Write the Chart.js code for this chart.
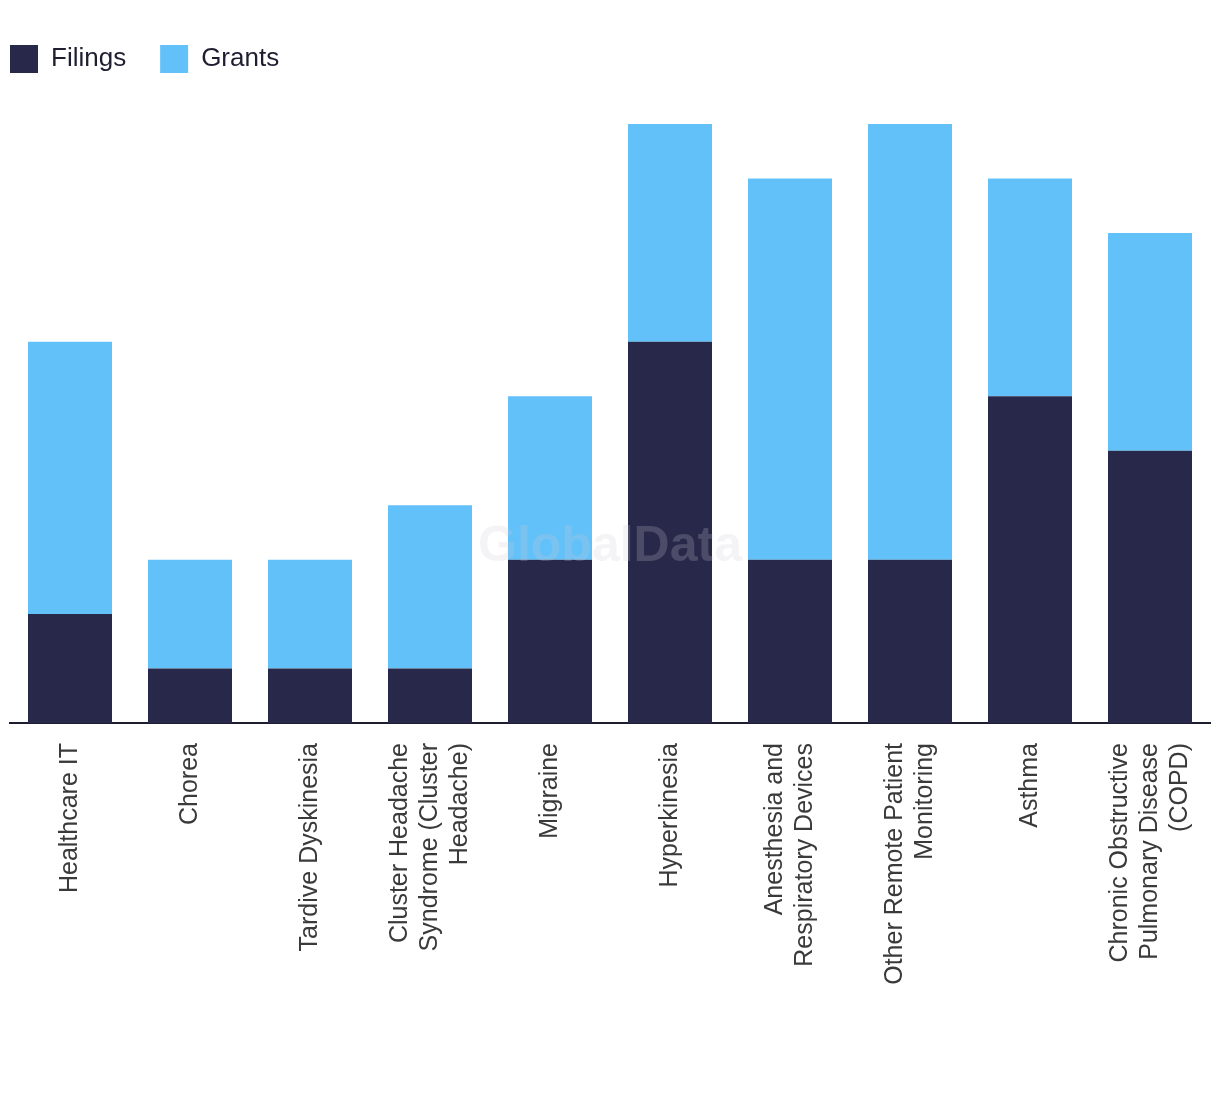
<!DOCTYPE html>
<html>
<head>
<meta charset="utf-8">
<script src="https://cdn.jsdelivr.net/npm/chart.js@4/dist/chart.umd.min.js"></script>
<style>
  html, body { margin: 0; padding: 0; background: #ffffff; }
  #wrap { width: 1220px; height: 1094px; }
</style>
</head>
<body>
<div id="wrap"><canvas id="c" width="1220" height="1094"></canvas></div>
<script>
const categories = [
  "Healthcare IT",
  "Chorea",
  "Tardive Dyskinesia",
  ["Cluster Headache", "Syndrome (Cluster", "Headache)"],
  "Migraine",
  "Hyperkinesia",
  ["Anesthesia and", "Respiratory Devices"],
  ["Other Remote Patient", "Monitoring"],
  "Asthma",
  ["Chronic Obstructive", "Pulmonary Disease", "(COPD)"]
];
const filings = [2, 1, 1, 1, 3, 7, 3, 3, 6, 5];
const grants  = [5, 2, 2, 3, 3, 4, 7, 8, 4, 4];
const seriesNames = ["Filings", "Grants"];
const yMax = 11;

const LEG_PAD = 34;
const LEG_BOX_TOP = 45;
const AREA_TOP = 124;
const AREA_BOTTOM = 723;
const H = 1094;

const layoutTweaks = {
  id: 'layoutTweaks',
  beforeLayout(chart) {
    const lg = chart.legend;
    if (lg && !lg._patched) {
      const orig = lg.fit;
      lg.fit = function () { orig.call(this); this.height = AREA_TOP - (LEG_BOX_TOP - LEG_PAD); };
      lg._patched = true;
    }
  },
  afterLayout(chart) {
    if (chart.legend) chart.legend.left = 10 - LEG_PAD;
  },
  beforeDraw(chart) {
    const ctx = chart.ctx;
    ctx.save();
    ctx.fillStyle = '#ffffff';
    ctx.fillRect(0, 0, chart.width, chart.height);
    ctx.restore();
    const scale = chart.scales.x;
    const items = scale.getLabelItems();
    items.forEach(it => {
      if (it._centered) return;
      const n = Array.isArray(it.label) ? it.label.length : 1;
      const lh = it.font.lineHeight;
      it.options.translation[0] -= (n - 1) * lh / 2;
      it._centered = true;
    });
  },
  afterDatasetsDraw(chart) {
    const ctx = chart.ctx;
    ctx.save();
    ctx.font = 'bold 50px "Liberation Sans", Arial, sans-serif';
    ctx.textAlign = 'center';
    ctx.textBaseline = 'middle';
    ctx.fillStyle = 'rgba(205,205,215,0.22)';
    ctx.fillText('GlobalData', chart.width / 2, chart.height / 2);
    ctx.restore();
  }
};

new Chart(document.getElementById('c'), {
  type: 'bar',
  data: {
    labels: categories,
    datasets: [
      { label: seriesNames[0], data: filings, backgroundColor: '#28284A', borderWidth: 0 },
      { label: seriesNames[1], data: grants, backgroundColor: '#63C1F9', borderWidth: 0 }
    ]
  },
  options: {
    responsive: false,
    animation: false,
    events: [],
    layout: { padding: { left: 10, right: 10, top: LEG_BOX_TOP - LEG_PAD, bottom: 0 } },
    datasets: { bar: { barPercentage: 0.7, categoryPercentage: 1.0 } },
    plugins: {
      legend: {
        position: 'top',
        align: 'start',
        labels: {
          boxWidth: 28,
          boxHeight: 28,
          padding: LEG_PAD,
          color: '#1e1e30',
          font: { family: '"Liberation Sans", Arial, sans-serif', size: 26 }
        }
      },
      tooltip: { enabled: false },
      title: { display: false }
    },
    scales: {
      x: {
        stacked: true,
        grid: { display: false, drawTicks: false },
        border: { display: true, color: '#1d1d30', width: 2 },
        ticks: {
          minRotation: 90,
          maxRotation: 90,
          autoSkip: false,
          padding: 20,
          color: '#3a3a3a',
          font: { family: '"Liberation Sans", Arial, sans-serif', size: 25, lineHeight: 1.2 }
        },
        afterFit(axis) {
          axis.height = H - AREA_BOTTOM;
          axis.paddingLeft = 0;
          axis.paddingRight = 0;
        }
      },
      y: {
        stacked: true,
        display: false,
        min: 0,
        max: yMax
      }
    }
  },
  plugins: [layoutTweaks]
});
</script>
</body>
</html>
